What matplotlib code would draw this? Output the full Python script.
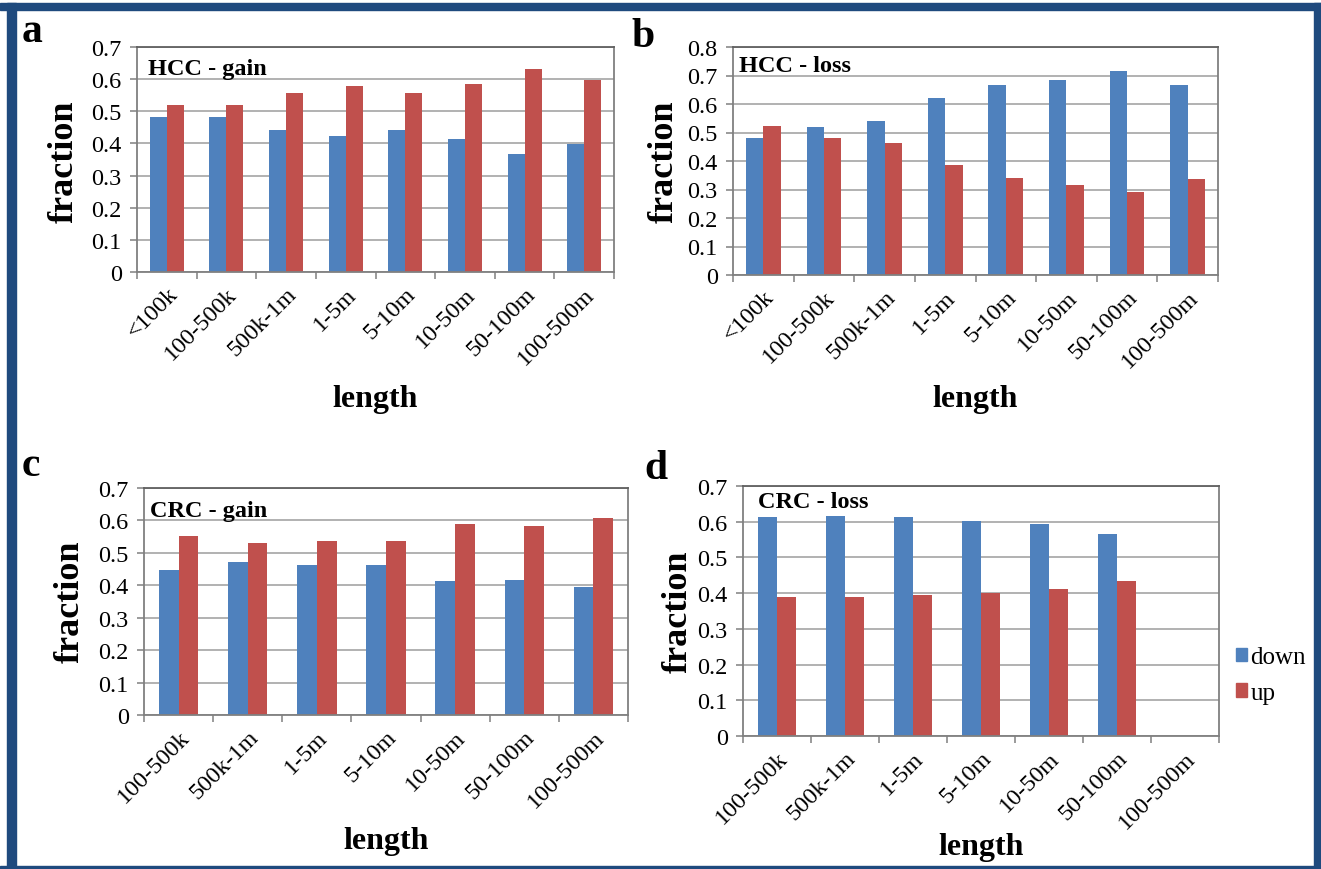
import matplotlib
matplotlib.use("Agg")
import matplotlib.pyplot as plt
import numpy as np
from matplotlib.patches import Rectangle, Patch

plt.rcParams['font.family'] = ['Liberation Serif', 'DejaVu Serif']

# ---------------- data ----------------
cats_hcc = ["<100k", "100-500k", "500k-1m", "1-5m", "5-10m", "10-50m", "50-100m", "100-500m"]
cats_crc = ["100-500k", "500k-1m", "1-5m", "5-10m", "10-50m", "50-100m", "100-500m"]

hcc_gain_down = [0.481, 0.481, 0.442, 0.423, 0.442, 0.415, 0.368, 0.399]
hcc_gain_up   = [0.519, 0.519, 0.557, 0.578, 0.557, 0.585, 0.632, 0.597]

hcc_loss_down = [0.480, 0.520, 0.541, 0.621, 0.666, 0.685, 0.715, 0.666]
hcc_loss_up   = [0.524, 0.480, 0.462, 0.386, 0.342, 0.316, 0.290, 0.338]

crc_gain_down = [0.448, 0.471, 0.463, 0.463, 0.413, 0.416, 0.396]
crc_gain_up   = [0.553, 0.529, 0.536, 0.536, 0.588, 0.584, 0.607]

crc_loss_down = [0.612, 0.616, 0.612, 0.603, 0.593, 0.566, np.nan]
crc_loss_up   = [0.390, 0.390, 0.394, 0.400, 0.413, 0.433, np.nan]

series_names = ["down", "up"]
titles = ["HCC - gain", "HCC - loss", "CRC - gain", "CRC - loss"]
letters = ["a", "b", "c", "d"]
ymaxes = [0.7, 0.8, 0.7, 0.7]

# ---------------- style ----------------
W, H = 1321, 870
BLUE = "#4F81BD"
RED = "#C0504D"
FRAME = "#1F4A7E"
SPINE = "#808080"
GRID = "#9c9c9c"

fig = plt.figure(figsize=(W / 100, H / 100), dpi=100)
fig.patch.set_facecolor("white")


def fx(px):
    return px / W


def fy(py):
    return 1 - py / H


def axes_px(x0, y0, x1, y1):
    return fig.add_axes([fx(x0), fy(y1), fx(x1) - fx(x0), (y1 - y0) / H])


panels = [
    dict(box=(137, 48, 614, 273), cats=cats_hcc, down=hcc_gain_down, up=hcc_gain_up,
         letter_xy=(32, 32), title_xy=(148, 69), ylab_xy=(64, 162), xlab_xy=(375, 400)),
    dict(box=(733, 48, 1218, 276), cats=cats_hcc, down=hcc_loss_down, up=hcc_loss_up,
         letter_xy=(643, 37), title_xy=(739, 66), ylab_xy=(664, 162), xlab_xy=(975, 400)),
    dict(box=(144, 489, 628, 716), cats=cats_crc, down=crc_gain_down, up=crc_gain_up,
         letter_xy=(31, 466), title_xy=(150, 511), ylab_xy=(70, 602), xlab_xy=(386, 842)),
    dict(box=(743, 487, 1219, 737), cats=cats_crc, down=crc_loss_down, up=crc_loss_up,
         letter_xy=(656, 469), title_xy=(758, 503), ylab_xy=(678, 612), xlab_xy=(981, 848)),
]

bw = 1 / 3.5
for i, p in enumerate(panels):
    ax = axes_px(*p["box"])
    n = len(p["cats"])
    x = np.arange(n)
    ax.bar(x - bw / 2, p["down"], width=bw, color=BLUE, zorder=2)
    ax.bar(x + bw / 2, p["up"], width=bw, color=RED, zorder=2)
    ax.set_xlim(-0.5, n - 0.5)
    ax.set_ylim(0, ymaxes[i])
    yt = np.round(np.arange(0, ymaxes[i] + 0.001, 0.1), 1)
    ax.set_yticks(yt)
    ax.set_yticklabels(["0" if v == 0 else f"{v:.1f}" for v in yt], fontsize=17.5)
    ax.yaxis.grid(True, color=GRID, lw=1.1, zorder=0)
    ax.set_axisbelow(True)
    # boundaries ticks, labels at centres
    ax.set_xticks(np.arange(-0.5, n, 1.0))
    ax.set_xticklabels([])
    ax.set_xticks(x, minor=True)
    ax.set_xticklabels(p["cats"], minor=True, rotation=45, ha="right", va="top",
                       rotation_mode="anchor", fontsize=17.5)
    ax.tick_params(axis="x", which="minor", length=0, pad=8)
    ax.tick_params(axis="x", which="major", length=5, color=SPINE, width=1.1)
    ax.tick_params(axis="y", length=5, color=SPINE, width=1.1, pad=6)
    for s in ax.spines.values():
        s.set_color(SPINE)
        s.set_linewidth(1.3)
    ax.spines["top"].set_color("#606060")
    ax.text(fx(p["title_xy"][0]), fy(p["title_xy"][1]), titles[i], transform=fig.transFigure,
            ha="left", va="center", fontsize=17.5, fontweight="bold")
    fig.text(fx(p["letter_xy"][0]), fy(p["letter_xy"][1]), letters[i], ha="center", va="center",
             fontsize=30, fontweight="bold")
    fig.text(fx(p["ylab_xy"][0]), fy(p["ylab_xy"][1]), "fraction", ha="center", va="center",
             rotation=90, fontsize=26, fontweight="bold")
    fig.text(fx(p["xlab_xy"][0]), fy(p["xlab_xy"][1]), "length", ha="center", va="center",
             fontsize=23, fontweight="bold")
    if i == 3:
        handles = [Patch(color=BLUE), Patch(color=RED)]
        fig.legend(handles, series_names, loc="center left",
                   bbox_to_anchor=(fx(1236), fy(676)), frameon=False, fontsize=18,
                   handlelength=0.45, handleheight=0.45, handletextpad=0.12, labelspacing=0.55,
                   borderaxespad=0, borderpad=0)

# dark blue frame
for (x0, y0, x1, y1) in [(0, 4, W, 11), (7, 4, 16, H), (1314, 4, W, H), (0, 867, W, H)]:
    fig.patches.append(Rectangle((fx(x0), fy(y1)), fx(x1) - fx(x0), (y1 - y0) / H,
                                 transform=fig.transFigure, color=FRAME, zorder=10))

fig.savefig("out.png", dpi=100)
